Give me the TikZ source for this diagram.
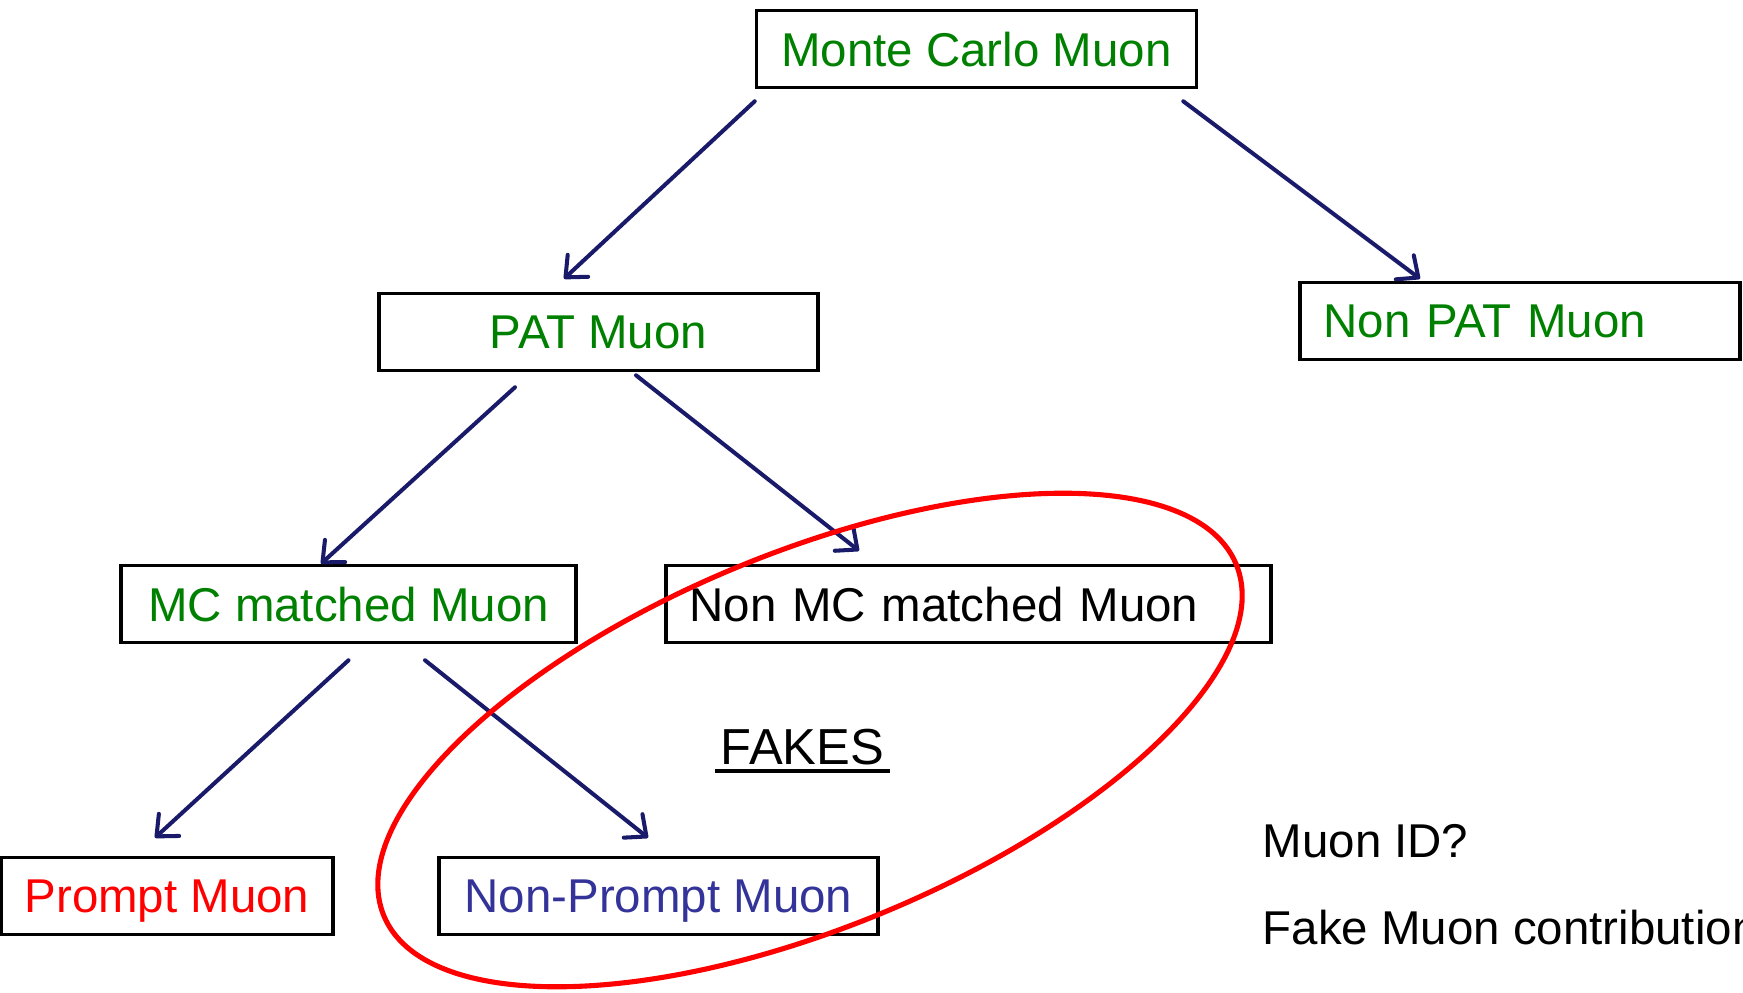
\documentclass[tikz,border=0pt]{standalone}
\usepackage{fontspec}
\setmainfont{Liberation Sans}
\usetikzlibrary{arrows.meta}

\definecolor{muongreen}{RGB}{0,128,0}
\definecolor{muonblue}{RGB}{51,51,153}
\definecolor{arrownavy}{RGB}{26,26,106}

\tikzset{
	box/.style={draw, line width=1pt, minimum width=#1, minimum height=0.77cm, inner xsep=0.22cm, text depth=0pt},
	leftbox/.style={box=#1, text width=#1-0.47cm, align=left},
	arr/.style={draw=arrownavy, line width=1.15pt, line cap=round, -{Straight Barb[length=0.17cm, width=0.3cm, round]}}
}

\begin{document}
\begin{tikzpicture}[font=\fontsize{13.5}{16}\selectfont]
			\useasboundingbox (0,0) rectangle (17.43,-9.93);

			\draw node[box=4.40cm, text=muongreen] (mc) at (9.765,-0.49) {Monte Carlo Muon};
			\draw node[box=4.39cm, text=muongreen] (pat) at (5.985,-3.32) {PAT Muon};
			\draw node[leftbox=4.40cm, text=muongreen] (nonpat) at (15.20,-3.21) {Non PAT Muon};
			\draw node[box=4.55cm, text=muongreen] (mcm) at (3.485,-6.04) {MC matched Muon};
			\draw node[leftbox=6.05cm] (nonmc) at (9.685,-6.04) {Non MC matched Muon};
			\draw node[box=3.32cm, text=red] (prompt) at (1.67,-8.96) {Prompt Muon};
			\draw node[box=4.39cm, text=muonblue] (nonprompt) at (6.585,-8.96) {Non-Prompt Muon};

			% fakes label, underlined by hand
			\draw node[font=\fontsize{14.4}{17}\selectfont, inner xsep=0.05cm] (fakes) at (8.025,-7.47) {FAKES};
			\draw[line width=1.1pt] ([yshift=-0.07cm]fakes.base west) -- ([yshift=-0.07cm]fakes.base east);

			\draw node[anchor=west, inner xsep=0pt] (muonid) at (12.62,-8.41) {Muon ID?};
			\draw node[anchor=west, inner xsep=0pt] (contrib) at (12.62,-9.28) {Fake Muon contribution};

			\draw[arr] ([yshift=-0.12cm]mc.south west) -- ([xshift=-0.345cm, yshift=0.13cm]pat.north);
			\draw[arr] ([xshift=-0.15cm, yshift=-0.12cm]mc.south east) -- ([xshift=-1.00cm, yshift=0.02cm]nonpat.north);
			\draw[arr] ([xshift=-0.835cm, yshift=-0.15cm]pat.south) -- ([xshift=-0.275cm]mcm.north);
			\draw[arr] ([xshift=0.375cm, yshift=-0.03cm]pat.south) -- ([xshift=-1.095cm, yshift=0.13cm]nonmc.north);
			\draw[arr] ([yshift=-0.16cm]mcm.south) -- ([xshift=-0.12cm, yshift=0.18cm]prompt.north);
			\draw[arr] ([xshift=0.765cm, yshift=-0.16cm]mcm.south) -- ([xshift=-0.105cm, yshift=0.18cm]nonprompt.north);

			\draw[red, line width=1.45pt, rotate around={22.4:(8.10,-7.40)}] (8.10,-7.40) ellipse [x radius=4.61, y radius=1.875];
		\end{tikzpicture}
\end{document}
